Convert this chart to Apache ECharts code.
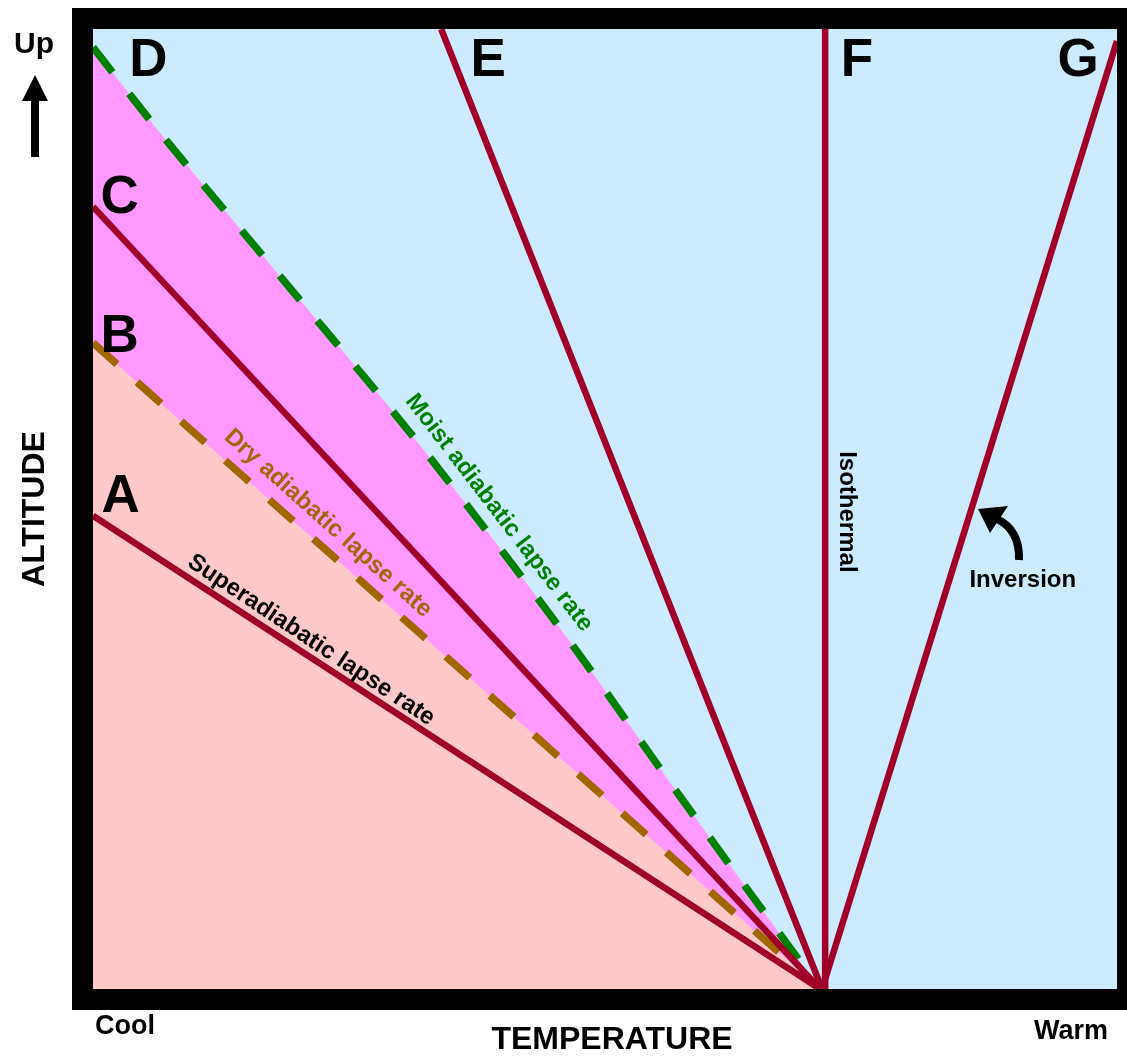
<!DOCTYPE html>
<html><head><meta charset="utf-8">
<script src="https://cdn.jsdelivr.net/npm/echarts@6/dist/echarts.min.js"></script>
<style>html,body{margin:0;padding:0;background:#fff}#c{width:1127px;height:1057px}</style>
</head><body><div id="c"></div>
<script>
// ---- data (temperature 0..100 cool->warm, altitude 0..100) ----
const superadiabaticA = [[0, 49.3], [71.0, 0]];
const dryAdiabaticB   = [[0, 67.3], [71.0, 0]];
const lapseC          = [[0, 81.5], [71.0, 0]];
const moistAdiabaticD = [[0, 98.1], [6.7, 89.0], [18.3, 74.2], [29.1, 60.4], [36.3, 50.7], [46.5, 36.3], [57.3, 20.1], [71.0, 0]];
const lapseE          = [[34.0, 100], [71.2, 0]];
const isothermalF     = [[71.5, 0], [71.5, 100]];
const inversionG      = [[71.2, 0], [100, 98.75]];

const curveLetters = ['A', 'B', 'C', 'D', 'E', 'F', 'G'];
const lineLabels = ['Superadiabatic lapse rate', 'Dry adiabatic lapse rate', 'Moist adiabatic lapse rate', 'Isothermal', 'Inversion'];
const axisTexts = { y: 'ALTITUDE', x: 'TEMPERATURE', cool: 'Cool', warm: 'Warm', up: 'Up' };

// ---- layout (annotation anchors in data units) ----
const letterPos = [[2.7, 51.2], [2.6, 67.9], [2.6, 82.4], [5.4, 96.6], [38.6, 96.6], [74.6, 96.6], [96.2, 96.6]];
const lineLabelPos = [[21.3, 36.35], [22.95, 48.5], [39.65, 49.6], [73.6, 49.7], [90.8, 42.6]];
const lineLabelRot = [-33.5, -41.8, -52.5, -90, 0];
const lineLabelColor = ['#000000', '#A0680A', '#008000', '#000000', '#000000'];

const RED = '#A00028', BROWN = '#A06600', GREEN = '#008000';
const FONT = '"Liberation Sans", Arial, sans-serif';

const chart = echarts.init(document.getElementById('c'), null, { renderer: 'canvas' });

function redLine(name, data) {
  return { name, type: 'line', data, symbol: 'none', silent: true, z: 5,
    lineStyle: { color: RED, width: 6.5 } };
}

const staticGraphics = [
  { type: 'rect', z: 100, shape: { x: 82.5, y: 18.5, width: 1045, height: 981 },
    style: { fill: null, stroke: '#000', lineWidth: 21 } },
  { type: 'text', z: 100, x: 34, y: 45, style: { text: axisTexts.up, font: 'bold 30px ' + FONT, fill: '#000', align: 'center', verticalAlign: 'middle' } },
  { type: 'rect', z: 100, shape: { x: 31, y: 98, width: 8, height: 59 }, style: { fill: '#000' } },
  { type: 'polygon', z: 100, shape: { points: [[22, 101], [48, 101], [35, 75]] }, style: { fill: '#000' } },
  { type: 'text', z: 100, x: 35, y: 509, rotation: Math.PI / 2, style: { text: axisTexts.y, font: 'bold 32px ' + FONT, fill: '#000', align: 'center', verticalAlign: 'middle' } },
  { type: 'text', z: 100, x: 612, y: 1040, style: { text: axisTexts.x, font: 'bold 32px ' + FONT, fill: '#000', align: 'center', verticalAlign: 'middle' } },
  { type: 'text', z: 100, x: 95, y: 1027, style: { text: axisTexts.cool, font: 'bold 27px ' + FONT, fill: '#000', align: 'left', verticalAlign: 'middle' } },
  { type: 'text', z: 100, x: 1108, y: 1032, style: { text: axisTexts.warm, font: 'bold 27px ' + FONT, fill: '#000', align: 'right', verticalAlign: 'middle' } },
  { type: 'bezierCurve', z: 100, shape: { x1: 1019, y1: 560, cpx1: 1020, cpy1: 530, x2: 997, y2: 519 },
    style: { stroke: '#000', lineWidth: 8, fill: null } },
  { type: 'polygon', z: 100, shape: { points: [[978, 509], [1008, 506], [990, 533]] }, style: { fill: '#000' } }
];

chart.setOption({
  animation: false,
  backgroundColor: '#ffffff',
  grid: { left: 93, top: 29, width: 1024, height: 960, show: true, backgroundColor: '#CCEBFF', borderWidth: 0 },
  xAxis: { type: 'value', min: 0, max: 100, show: false },
  yAxis: { type: 'value', min: 0, max: 100, show: false },
  series: [
    { name: 'Moist adiabatic', type: 'line', data: moistAdiabaticD, smooth: 0.3, symbol: 'none', silent: true, z: 2,
      areaStyle: { color: '#FF99FF', opacity: 1, origin: 'start' },
      lineStyle: { color: GREEN, width: 7.5, type: [32, 27], cap: 'butt' } },
    { name: 'Dry adiabatic', type: 'line', data: dryAdiabaticB, symbol: 'none', silent: true, z: 3,
      areaStyle: { color: '#FFC9C9', opacity: 1, origin: 'start' },
      lineStyle: { color: BROWN, width: 7.5, type: [32, 27], cap: 'butt' } },
    redLine('A', superadiabaticA),
    redLine('C', lapseC),
    redLine('E', lapseE),
    redLine('F', isothermalF),
    redLine('G', inversionG)
  ],
  graphic: staticGraphics
});

// annotations placed through the chart's own coordinate conversion
const annot = [];
curveLetters.forEach((t, i) => {
  const p = chart.convertToPixel({ gridIndex: 0 }, letterPos[i]);
  annot.push({ type: 'text', z: 50, x: p[0], y: p[1],
    style: { text: t, font: 'bold 53px ' + FONT, fill: '#000', align: 'center', verticalAlign: 'middle' } });
});
lineLabels.forEach((t, i) => {
  const p = chart.convertToPixel({ gridIndex: 0 }, lineLabelPos[i]);
  annot.push({ type: 'text', z: 50, x: p[0], y: p[1], rotation: lineLabelRot[i] * Math.PI / 180,
    style: { text: t, font: 'bold 24px ' + FONT, fill: lineLabelColor[i], align: 'center', verticalAlign: 'middle' } });
});
chart.setOption({ graphic: staticGraphics.concat(annot) });
</script>
</body></html>
